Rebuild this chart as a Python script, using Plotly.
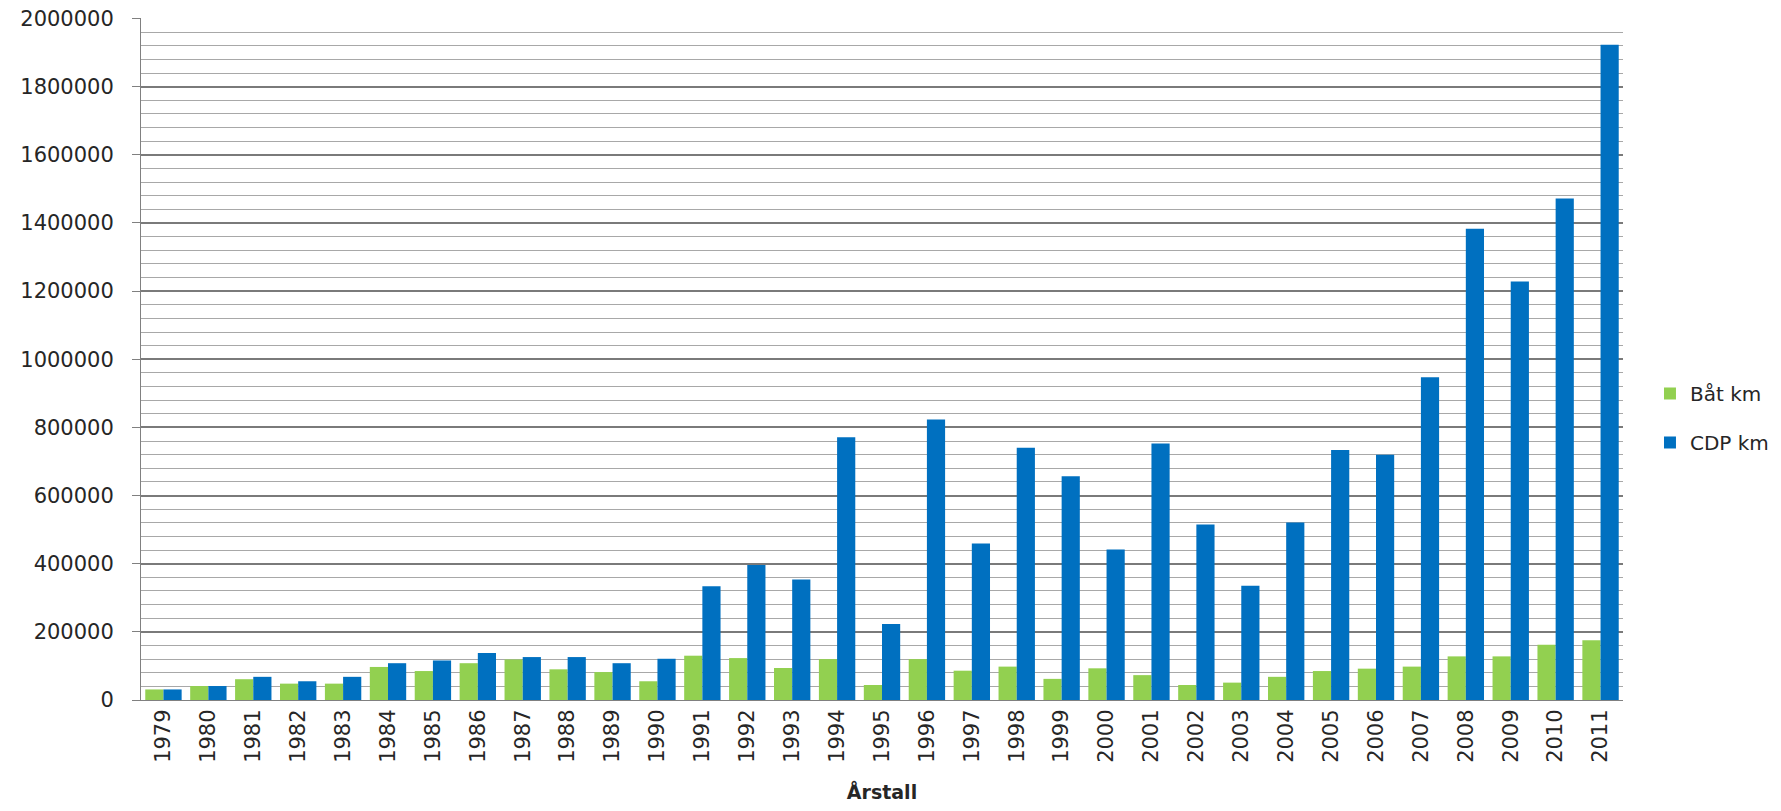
import plotly.graph_objects as go

years = [str(y) for y in range(1979, 2012)]
bat_km = [31000, 41000, 61000, 48000, 48000, 97000, 85000, 108000, 119000, 90000,
          82000, 55000, 130000, 123000, 94000, 120000, 44000, 120000, 86000, 98000,
          62000, 93000, 73000, 44000, 51000, 68000, 85000, 92000, 98000, 128000,
          128000, 162000, 175000]
cdp_km = [31000, 41000, 68000, 55000, 68000, 108000, 116000, 138000, 126000, 126000,
          108000, 121000, 334000, 396000, 354000, 771000, 223000, 823000, 459000, 740000,
          657000, 442000, 753000, 515000, 335000, 521000, 734000, 720000, 947000, 1383000,
          1228000, 1472000, 1923000]

FONT = "DejaVu Sans"
TXT = "#262626"

fig = go.Figure()
fig.add_trace(go.Bar(x=years, y=bat_km, name="Båt km", marker_color="#92D050",
                     marker_line_width=0, legendgroup="a"))
fig.add_trace(go.Bar(x=years, y=cdp_km, name="CDP km", marker_color="#0070C0",
                     marker_line_width=0, legendgroup="b"))

fig.update_layout(
    width=1765, height=795,
    margin=dict(l=133, r=150, t=10, b=103, autoexpand=False),
    paper_bgcolor="white", plot_bgcolor="white",
    barmode="group", bargap=0.19, bargroupgap=0,
    font=dict(family=FONT, size=21, color=TXT),
    legend=dict(x=1.0182, y=0.4135, xanchor="left", yanchor="middle",
                font=dict(family=FONT, size=20, color=TXT),
                tracegroupgap=20, itemwidth=30),
    xaxis=dict(
        tickangle=-90, showline=True, linecolor="#808080", linewidth=1,
        ticks="", showgrid=False, automargin=False,
        tickfont=dict(family=FONT, size=21, color=TXT),
        title=dict(text="<b>Årstall</b>", standoff=30,
                   font=dict(family=FONT, size=19, color=TXT)),
    ),
    yaxis=dict(
        range=[0, 2001500], dtick=200000, tick0=0, tickformat="d",
        showline=True, linecolor="#808080", linewidth=1,
        ticks="outside", ticklen=8, tickcolor="#808080",
        ticklabelstandoff=14, ticklabeloverflow="allow", automargin=False,
        showgrid=True, gridcolor="#7a7a7a", gridwidth=1.5,
        zeroline=False,
        tickfont=dict(family=FONT, size=21, color=TXT),
        minor=dict(dtick=40000, showgrid=True, gridcolor="#a8a8a8", gridwidth=1),
    ),
)

fig.write_html("out.html")
